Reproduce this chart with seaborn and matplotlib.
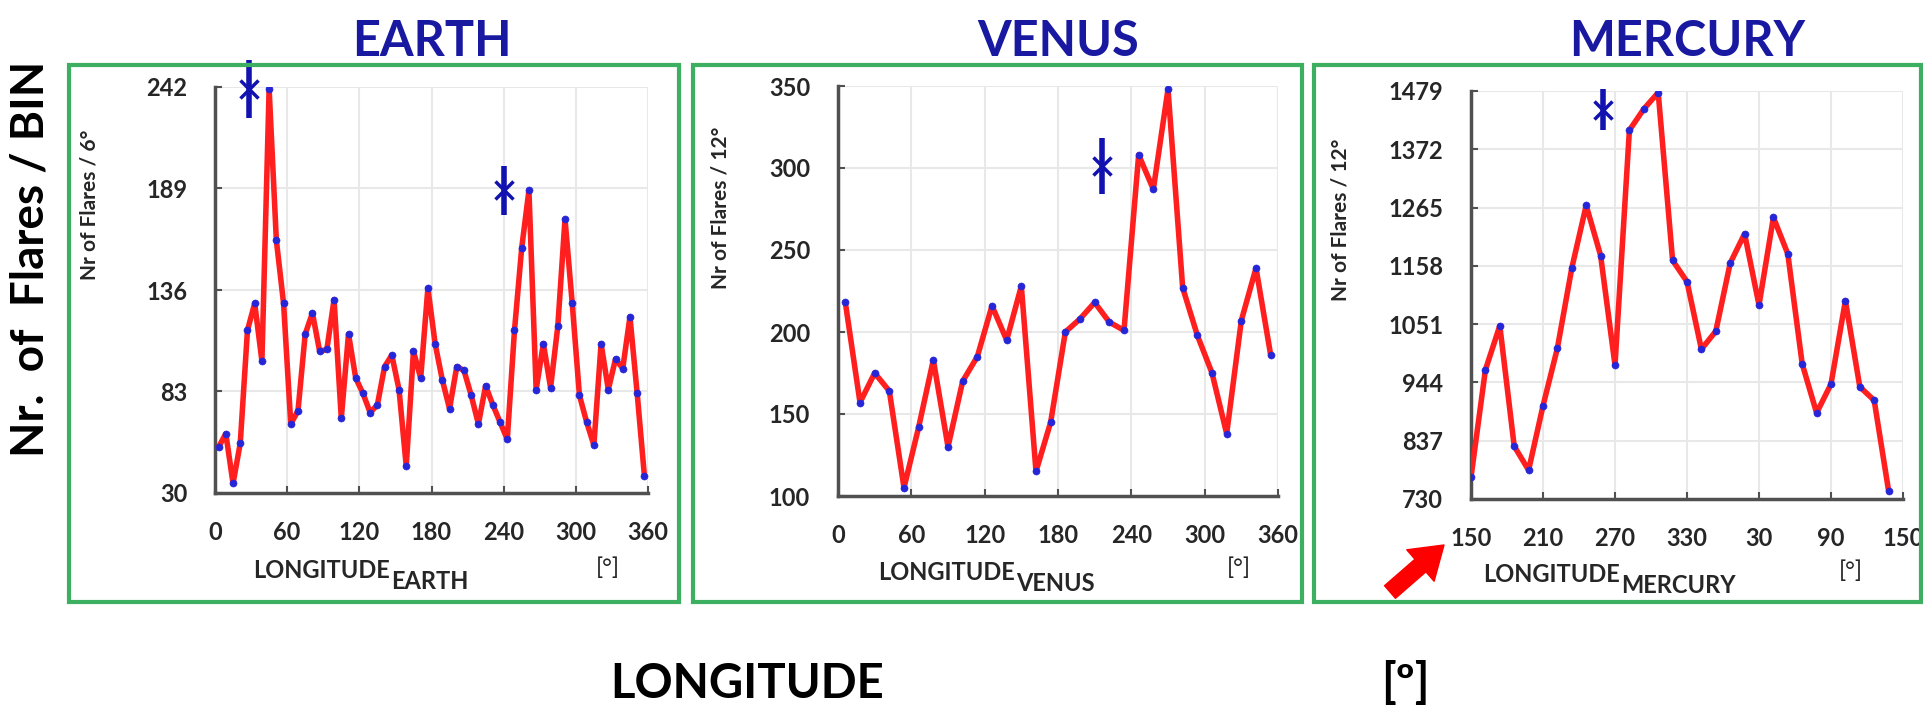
import numpy as np
import pandas as pd
import seaborn as sns
import matplotlib.pyplot as plt
from matplotlib.patches import Rectangle

sns.set_theme(style="whitegrid")
plt.rcParams['font.family'] = ['Lato', 'DejaVu Sans']

# Earth, 6 degree bins
earth_lon = [3, 9, 15, 21, 27, 33, 39, 45, 51, 57, 63, 69, 75, 81, 87, 93, 99, 105, 111, 117,
             123, 129, 135, 141, 147, 153, 159, 165, 171, 177, 183, 189, 195, 201, 207, 213, 219, 225, 231, 237,
             243, 249, 255, 261, 267, 273, 279, 285, 291, 297, 303, 309, 315, 321, 327, 333, 339, 345, 351, 357]
earth_flares = [54, 61, 35, 56, 115, 129, 99, 241, 162, 129, 66, 73, 113, 124, 104, 105, 131, 69, 113, 90,
                82, 72, 76, 96, 102, 84, 44, 104, 90, 137, 108, 89, 74, 96, 94, 81, 66, 86, 76, 67,
                58, 115, 158, 188, 84, 108, 85, 117, 173, 129, 81, 67, 55, 108, 84, 100, 95, 122, 82, 39]

# Venus, 12 degree bins
venus_lon = [6, 18, 30, 42, 54, 66, 78, 90, 102, 114, 126, 138, 150, 162, 174,
             186, 198, 210, 222, 234, 246, 258, 270, 282, 294, 306, 318, 330, 342, 354]
venus_flares = [218, 157, 175, 164, 105, 142, 183, 130, 170, 185, 216, 195, 228, 115, 145,
                200, 208, 218, 206, 201, 308, 287, 348, 227, 198, 175, 138, 207, 239, 186]

# Mercury, 12 degree bins, axis starts at 150 and wraps round
mercury_lon = [150, 162, 174, 186, 198, 210, 222, 234, 246, 258, 270, 282, 294, 306, 318,
               330, 342, 354, 366, 378, 390, 402, 414, 426, 438, 450, 462, 474, 486, 498]
mercury_flares = [770, 967, 1048, 827, 783, 901, 1007, 1154, 1269, 1177, 976, 1407, 1446, 1476, 1168,
                  1129, 1005, 1038, 1163, 1217, 1086, 1247, 1180, 978, 888, 941, 1094, 936, 911, 745]

# blue markers
earth_star_x, earth_star_y, earth_star_err = [28, 240], [241, 188], [15, 13]
venus_star_x, venus_star_y, venus_star_err = [216], [301], [17]
mercury_star_x, mercury_star_y, mercury_star_err = [260], [1445], [38]

earth_yticks = [30, 83, 136, 189, 242]
venus_yticks = [100, 150, 200, 250, 300, 350]
mercury_yticks = [730, 837, 944, 1051, 1158, 1265, 1372, 1479]
std_xticks = [0, 60, 120, 180, 240, 300, 360]
mercury_xticks = [150, 210, 270, 330, 390, 450, 510]
mercury_xlabels = ["150", "210", "270", "330", "30", "90", "150"]

RED = "#ff1f1f"
BLUE = "#2626d9"
STAR = "#1212b0"
TITLE = "#1818a0"
GREEN = "#3cb060"
TICKC = "#262626"

W, H = 1924, 710
fig = plt.figure(figsize=(W / 100, H / 100), dpi=100)


def fx(x):
    return x / W


def fy(y):
    return 1 - y / H


panels = [
    dict(name="EARTH", lon=earth_lon, val=earth_flares, ax=(215, 648, 87, 493),
         box=(69, 679), yticks=earth_yticks, xticks=std_xticks, xlabels=None, xlim=(0, 360),
         star=(earth_star_x, earth_star_y, earth_star_err), ylab="Nr of Flares / 6°",
         ylab_pos=(90, 205), xl_pos=(253, 578), deg_pos=(608, 568)),
    dict(name="VENUS", lon=venus_lon, val=venus_flares, ax=(838, 1278, 86, 496),
         box=(693, 1302), yticks=venus_yticks, xticks=std_xticks, xlabels=None, xlim=(0, 360),
         star=(venus_star_x, venus_star_y, venus_star_err), ylab="Nr of Flares / 12°",
         ylab_pos=(721, 208), xl_pos=(878, 580), deg_pos=(1239, 568)),
    dict(name="MERCURY", lon=mercury_lon, val=mercury_flares, ax=(1471, 1903, 91, 499),
         box=(1314, 1921), yticks=mercury_yticks, xticks=mercury_xticks, xlabels=mercury_xlabels,
         xlim=(150, 510), star=(mercury_star_x, mercury_star_y, mercury_star_err),
         ylab="Nr of Flares / 12°", ylab_pos=(1341, 220), xl_pos=(1483, 582), deg_pos=(1851, 571)),
]

for p in panels:
    x0, x1, y0, y1 = p["ax"]
    ax = fig.add_axes([fx(x0), fy(y1), (x1 - x0) / W, (y1 - y0) / H])
    df = pd.DataFrame({"lon": p["lon"], "n": p["val"]})
    sns.lineplot(data=df, x="lon", y="n", ax=ax, color=RED, lw=4, zorder=3)
    sns.scatterplot(data=df, x="lon", y="n", ax=ax, color=BLUE, s=26, edgecolor=BLUE, zorder=4)
    sx, sy, se = p["star"]
    eb = ax.errorbar(sx, sy, yerr=se, fmt="x", color=STAR, ecolor=STAR, elinewidth=4,
                     capsize=0, markersize=13, mew=2.5, zorder=5)
    for art in eb.get_children():
        art.set_clip_on(False)

    ax.set_xlim(*p["xlim"])
    ax.set_ylim(p["yticks"][0], p["yticks"][-1])
    ax.set_yticks(p["yticks"])
    ax.set_xticks(p["xticks"])
    if p["xlabels"]:
        ax.set_xticklabels(p["xlabels"])
    ax.set_xlabel("")
    ax.set_ylabel("")
    ax.grid(True, color="#e8e8e8", lw=1.5)
    for side in ["top", "right"]:
        ax.spines[side].set_visible(False)
    for side in ["left", "bottom"]:
        ax.spines[side].set_color("#505050")
        ax.spines[side].set_linewidth(2.5)
    ax.tick_params(direction="in", length=5, width=1.5, color="#505050", left=True, bottom=True,
                   labelsize=17, labelcolor=TICKC, pad=20)
    for lab in ax.get_xticklabels() + ax.get_yticklabels():
        lab.set_fontweight("bold")

    # title over the axes
    fig.text(fx((x0 + x1) / 2), fy(42), p["name"], ha="center", va="center",
             fontsize=35, weight="bold", color=TITLE)
    # green frame
    bx0, bx1 = p["box"]
    fig.add_artist(Rectangle((fx(bx0), fy(602)), (bx1 - bx0) / W, (602 - 65) / H,
                             transform=fig.transFigure, fill=False, edgecolor=GREEN, lw=3))
    # panel y label
    fig.text(fx(p["ylab_pos"][0]), fy(p["ylab_pos"][1]), p["ylab"], rotation=90,
             ha="center", va="center", fontsize=15, weight="bold", color=TICKC)
    # panel x label with lowered planet name
    xl, yl = p["xl_pos"]
    t = fig.text(fx(xl), fy(yl), "LONGITUDE", ha="left", va="baseline",
                 fontsize=17, weight="bold", color=TICKC)
    fig.canvas.draw()
    bb = t.get_window_extent()
    fig.text(bb.x1 / W + 0.0008, fy(yl + 11), p["name"], fontsize=17, weight="bold",
             color=TICKC, ha="left", va="baseline")
    fig.text(fx(p["deg_pos"][0]), fy(p["deg_pos"][1]), "[°]", ha="center", va="center",
             fontsize=17, color=TICKC)

fig.text(fx(31), fy(259), "Nr.  of  Flares / BIN", rotation=90, ha="center", va="center",
         fontsize=33, weight="bold", color="black")
fig.text(fx(747), fy(698), "LONGITUDE", ha="center", va="baseline", fontsize=34,
         weight="bold", color="black")
fig.text(fx(1405), fy(698), "[º]", ha="center", va="baseline", fontsize=34,
         weight="bold", color="black")

fig.axes[0].annotate("", xy=(1444, H - 545), xycoords="figure pixels",
                     xytext=(1390, H - 592), textcoords="figure pixels",
                     arrowprops=dict(arrowstyle="simple,head_length=1.5,head_width=2.0,tail_width=0.8",
                                     color="red", mutation_scale=15, shrinkA=0, shrinkB=0))

fig.savefig("out.png", dpi=100, facecolor="white")
